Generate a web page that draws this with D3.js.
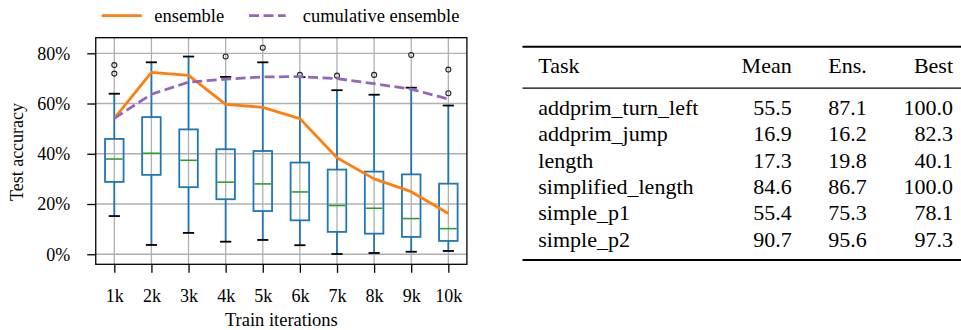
<!DOCTYPE html>
<html>
<head>
<meta charset="utf-8">
<script src="https://cdn.jsdelivr.net/npm/d3@7"></script>
</head>
<body style="margin:0; background:#fff">
<svg id="chart" width="961" height="330"></svg>
<script>
// boxplot stats per checkpoint (test accuracy, %)
var iters = ["1k", "2k", "3k", "4k", "5k", "6k", "7k", "8k", "9k", "10k"];
var whiskLo = [15.2, 3.7, 8.5, 5.0, 5.7, 3.6, 0.1, 0.5, 1.0, 1.3];
var q1      = [28.8, 31.6, 26.7, 21.9, 17.2, 13.5, 8.9, 8.2, 6.9, 5.3];
var med     = [37.9, 40.2, 37.4, 28.7, 28.0, 24.8, 19.4, 18.3, 14.2, 10.2];
var q3      = [45.9, 54.6, 49.7, 41.8, 41.1, 36.5, 33.7, 32.9, 31.8, 28.1];
var whiskHi = [63.9, 76.4, 78.7, 70.6, 76.4, 70.5, 65.3, 63.5, 66.3, 59.2];
var fliers  = [[75.3, 71.9], [], [], [78.7], [82.2], [71.4], [71.1], [71.4], [79.3], [73.5, 64.1]];

var ensemble   = [54.1, 72.4, 71.2, 59.7, 58.5, 54.0, 38.4, 30.0, 24.9, 16.2];
var cumulative = [54.1, 63.7, 68.5, 69.7, 70.6, 70.7, 69.9, 67.9, 65.7, 61.8];

var yTicks = [0, 20, 40, 60, 80];

// table
var tableHeader = ["Task", "Mean", "Ens.", "Best"];
var tasks    = ["addprim_turn_left", "addprim_jump", "length", "simplified_length", "simple_p1", "simple_p2"];
var meanAcc  = ["55.5", "16.9", "17.3", "84.6", "55.4", "90.7"];
var ensAcc   = ["87.1", "16.2", "19.8", "86.7", "75.3", "95.6"];
var bestAcc  = ["100.0", "82.3", "40.1", "100.0", "78.1", "97.3"];

var blue = "#1f77b4", green = "#2ca02c", orange = "#ff7f0e", purple = "#9467bd", grid = "#b0b0b0";

// every text gets its font set on itself
function serifText(sel, size) {
  return sel.style("font-family", "Liberation Serif")
      .style("font-size", size + "px")
      .attr("fill", "#000");
}

var svg = d3.select("#chart");

var x = d3.scaleLinear().domain([0.5, 10.5]).range([95.75, 466.9]);
var y = d3.scaleLinear().domain([-4, 86.2]).range([264.3, 37.7]);
var boxW = x(1.25) - x(1),   // half box width
    capW = 5.6;

// grid
var g = svg.append("g");
g.selectAll(".gx").data(iters).enter().append("line")
    .attr("x1", function(d, i) { return x(i + 1); })
    .attr("x2", function(d, i) { return x(i + 1); })
    .attr("y1", y.range()[0]).attr("y2", y.range()[1])
    .attr("stroke", grid).attr("stroke-width", 1.3);
g.selectAll(".gy").data(yTicks).enter().append("line")
    .attr("x1", x.range()[0]).attr("x2", x.range()[1])
    .attr("y1", function(d) { return y(d); })
    .attr("y2", function(d) { return y(d); })
    .attr("stroke", grid).attr("stroke-width", 1.3);

// boxes
var box = svg.selectAll(".box").data(iters).enter().append("g")
    .attr("class", "box")
    .attr("transform", function(d, i) { return "translate(" + x(i + 1) + ",0)"; });

box.append("line")
    .attr("y1", function(d, i) { return y(whiskLo[i]); })
    .attr("y2", function(d, i) { return y(q1[i]); })
    .attr("stroke", blue).attr("stroke-width", 1.8);
box.append("line")
    .attr("y1", function(d, i) { return y(q3[i]); })
    .attr("y2", function(d, i) { return y(whiskHi[i]); })
    .attr("stroke", blue).attr("stroke-width", 1.8);
box.append("rect")
    .attr("x", -boxW)
    .attr("width", boxW * 2)
    .attr("y", function(d, i) { return y(q3[i]); })
    .attr("height", function(d, i) { return y(q1[i]) - y(q3[i]); })
    .attr("fill", "none").attr("stroke", blue).attr("stroke-width", 1.8);
box.append("line")
    .attr("x1", -boxW + 1).attr("x2", boxW - 1)
    .attr("y1", function(d, i) { return y(med[i]); })
    .attr("y2", function(d, i) { return y(med[i]); })
    .attr("stroke", green).attr("stroke-width", 1.6);
[whiskLo, whiskHi].forEach(function(arr) {
  box.append("line")
      .attr("x1", -capW).attr("x2", capW)
      .attr("y1", function(d, i) { return y(arr[i]); })
      .attr("y2", function(d, i) { return y(arr[i]); })
      .attr("stroke", "#000").attr("stroke-width", 1.8);
});

// lines
var line = d3.line()
    .x(function(d, i) { return x(i + 1); })
    .y(function(d) { return y(d); });

svg.append("path").datum(ensemble)
    .attr("d", line).attr("fill", "none")
    .attr("stroke", orange).attr("stroke-width", 2.8).attr("stroke-linejoin", "round");
svg.append("path").datum(cumulative)
    .attr("d", line).attr("fill", "none")
    .attr("stroke", purple).attr("stroke-width", 2.8)
    .attr("stroke-dasharray", "10,4.5");

// outliers
box.selectAll("circle").data(function(d, i) { return fliers[i]; })
  .enter().append("circle")
    .attr("cy", function(d) { return y(d); })
    .attr("r", 2.5)
    .attr("fill", "none").attr("stroke", "#222").attr("stroke-width", 1.1);

// frame
svg.append("rect")
    .attr("x", x.range()[0]).attr("y", y.range()[1])
    .attr("width", x.range()[1] - x.range()[0])
    .attr("height", y.range()[0] - y.range()[1])
    .attr("fill", "none").attr("stroke", "#000").attr("stroke-width", 1.3);

// axes
function styleAxis(a) {
  a.attr("font-family", null).attr("font-size", null);
  a.select(".domain").remove();
  a.selectAll(".tick line").attr("stroke-width", 1.3);
  serifText(a.selectAll("text"), 18);
}

var xAxis = d3.axisBottom(x)
    .tickValues(d3.range(1, 11))
    .tickFormat(function(d) { return iters[d - 1]; })
    .tickSize(8.5).tickPadding(16);
svg.append("g")
    .attr("transform", "translate(0," + y.range()[0] + ")")
    .call(xAxis)
    .call(styleAxis);

var yAxis = d3.axisLeft(y)
    .tickValues(yTicks)
    .tickFormat(function(d) { return d + "%"; })
    .tickSize(8.5).tickPadding(17);
svg.append("g")
    .attr("transform", "translate(" + x.range()[0] + ",0)")
    .call(yAxis)
    .call(styleAxis);

serifText(svg.append("text"), 18)
    .attr("transform", "translate(23,152) rotate(-90)")
    .attr("text-anchor", "middle")
    .text("Test accuracy");

serifText(svg.append("text"), 18.5)
    .attr("x", (x.range()[0] + x.range()[1]) / 2)
    .attr("y", 325.5)
    .attr("text-anchor", "middle")
    .text("Train iterations");

// legend
var legend = [
  {label: "ensemble", color: orange, dash: null, x0: 101.7, x1: 141.7, tx: 154.3},
  {label: "cumulative ensemble", color: purple, dash: "10,4.5", x0: 249, x1: 285.7, tx: 302.7}
];
var lg = svg.selectAll(".lg").data(legend).enter().append("g");
lg.append("line")
    .attr("x1", function(d) { return d.x0; })
    .attr("x2", function(d) { return d.x1; })
    .attr("y1", 15.7).attr("y2", 15.7)
    .attr("stroke", function(d) { return d.color; })
    .attr("stroke-width", 2.8)
    .attr("stroke-dasharray", function(d) { return d.dash; });
serifText(lg.append("text"), 18.5)
    .attr("x", function(d) { return d.tx; })
    .attr("y", 21.5)
    .text(function(d) { return d.label; });

// table
var tbl = svg.append("g");
var colX = [538.3, 791.7, 866.7, 953];
var rowY = d3.range(tasks.length).map(function(i) { return 115 + i * 26.35; });

tbl.append("line").attr("x1", 522.5).attr("x2", 961).attr("y1", 46.7).attr("y2", 46.7)
    .attr("stroke", "#000").attr("stroke-width", 2);
tbl.append("line").attr("x1", 522.5).attr("x2", 961).attr("y1", 88.2).attr("y2", 88.2)
    .attr("stroke", "#000").attr("stroke-width", 1.2);
tbl.append("line").attr("x1", 522.5).attr("x2", 961).attr("y1", 260).attr("y2", 260)
    .attr("stroke", "#000").attr("stroke-width", 2);

serifText(tbl.selectAll(".hd").data(tableHeader).enter().append("text"), 22)
    .attr("x", function(d, i) { return colX[i]; })
    .attr("y", 73.3)
    .attr("text-anchor", function(d, i) { return i === 0 ? "start" : "end"; })
    .text(function(d) { return d; });

var cols = [tasks, meanAcc, ensAcc, bestAcc];
cols.forEach(function(col, c) {
  serifText(tbl.selectAll(".c" + c).data(col).enter().append("text"), 22)
      .attr("x", colX[c])
      .attr("y", function(d, i) { return rowY[i]; })
      .attr("text-anchor", c === 0 ? "start" : "end")
      .text(function(d) { return d; });
});
</script>
</body>
</html>
